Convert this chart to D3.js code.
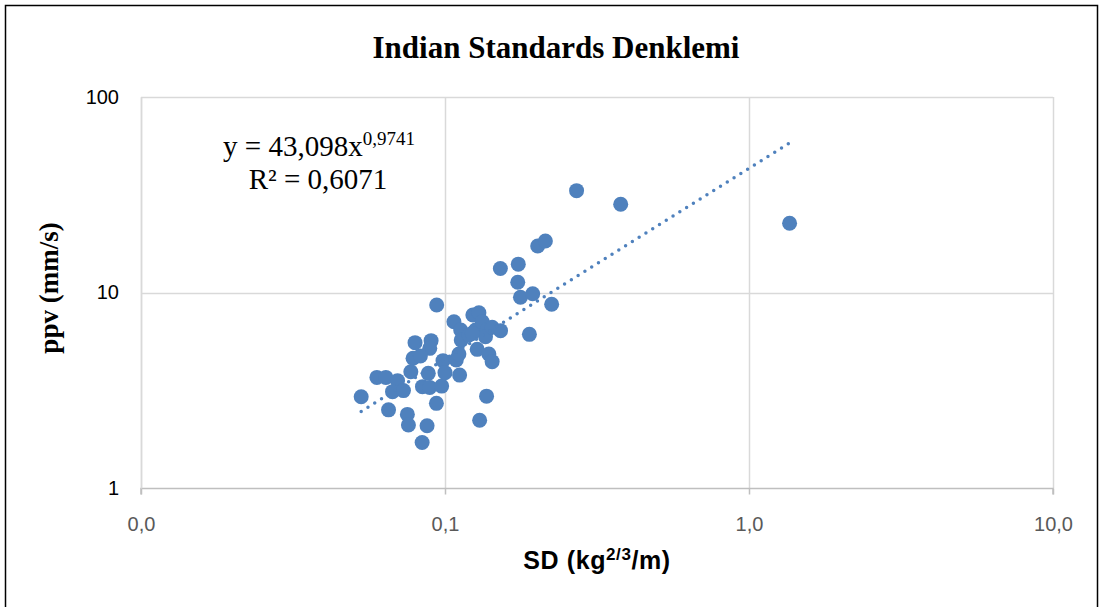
<!DOCTYPE html>
<html>
<head>
<meta charset="utf-8">
<script src="https://cdn.jsdelivr.net/npm/d3@7"></script>
<style>
  html, body { margin: 0; padding: 0; background: #fff; }
</style>
</head>
<body>
<div id="chart"></div>
<script>
// SD (kg^2/3/m) and ppv (mm/s)
const sdValues = [
    0.0530, 0.0597, 0.0639, 0.0698, 0.0672, 0.0730, 0.0652, 0.0752, 0.0758, 0.0873,
    0.0841, 0.0937, 0.0797, 0.0900, 0.0891, 0.0785, 0.0830, 0.0772, 0.0881, 0.0843,
    0.0891, 0.0975, 0.0985, 0.1000, 0.1117, 0.1089, 0.1111, 0.0939, 0.1070, 0.1126,
    0.1131, 0.1199, 0.1235, 0.1293, 0.1261, 0.1326, 0.1376, 0.1359, 0.1429, 0.1523,
    0.1276, 0.1394, 0.1429, 0.1370, 0.1300, 0.1521, 0.1742, 0.1735, 0.1771, 0.1943,
    0.2243, 0.1895, 0.2018, 0.2139, 0.2709, 0.3784, 1.36, 0.1229
];
const ppvValues = [
    2.93, 3.68, 3.68, 3.54, 3.11, 3.15, 2.51, 2.38, 2.10, 2.08,
    1.71, 2.71, 5.54, 5.67, 5.18, 4.61, 4.73, 3.93, 3.86, 3.30,
    3.27, 3.32, 4.48, 3.89, 3.78, 4.52, 4.85, 8.63, 7.09, 6.43,
    5.71, 6.06, 7.67, 7.88, 6.43, 7.09, 6.43, 5.94, 6.64, 6.38,
    5.12, 4.85, 4.43, 2.95, 2.22, 13.27, 13.96, 11.29, 9.45, 9.86,
    8.71, 6.11, 17.29, 18.34, 33.18, 28.26, 22.59, 6.18
];
const xTicks = [0.01, 0.1, 1, 10];
const yTicks = [1, 10, 100];

// power trendline shown on the chart
const fitA = 43.098;
const fitB = 0.9741;
const rSquared = "0,6071";

const width = 1103;
const height = 607;
const blue = "#4f81bd";

const svg = d3.select("#chart").append("svg")
    .attr("width", width)
    .attr("height", height)
    .style("display", "block");

svg.append("rect")
    .attr("width", width)
    .attr("height", height)
    .attr("fill", "#fff");

// outer border (bottom edge runs off the picture)
svg.append("rect")
    .attr("x", 5.5)
    .attr("y", 5.5)
    .attr("width", 1092)
    .attr("height", 640)
    .attr("fill", "none")
    .attr("stroke", "#000")
    .attr("stroke-width", 1.5);

const x = d3.scaleLog().domain([0.01, 10]).range([141, 1053]);
const y = d3.scaleLog().domain([1, 100]).range([488, 97]);

const data = sdValues.map((d, i) => ({ sd: d, ppv: ppvValues[i] }));

// gridlines
svg.append("g")
    .selectAll("line")
    .data(yTicks.filter(d => d > 1))
    .enter()
    .append("line")
    .attr("x1", x.range()[0])
    .attr("x2", x.range()[1])
    .attr("y1", d => Math.round(y(d)) + 0.5)
    .attr("y2", d => Math.round(y(d)) + 0.5)
    .attr("stroke", "#d9d9d9")
    .attr("stroke-width", 1.5);

svg.append("g")
    .selectAll("line")
    .data(xTicks)
    .enter()
    .append("line")
    .attr("x1", d => Math.round(x(d)) + 0.5)
    .attr("x2", d => Math.round(x(d)) + 0.5)
    .attr("y1", y.range()[1])
    .attr("y2", y.range()[0])
    .attr("stroke", "#d9d9d9")
    .attr("stroke-width", 1.5);

// x axis
const xAxis = svg.append("g")
    .attr("transform", `translate(0,${Math.round(y(1)) + 0.5})`)
    .call(d3.axisBottom(x)
        .tickValues(xTicks)
        .tickSize(6)
        .tickPadding(22)
        .tickFormat(d => d3.format(".1f")(d).replace(".", ",")));
xAxis.select(".domain").attr("stroke", "#bfbfbf").attr("stroke-width", 1.5)
    .attr("d", `M${x.range()[0]},6V0H${x.range()[1]}V6`);
xAxis.selectAll(".tick line").attr("stroke", "#bfbfbf").attr("stroke-width", 1.5);
xAxis.selectAll(".tick text")
    .attr("fill", "#595959")
    .style("font-family", "'Liberation Sans Narrow', 'Liberation Sans', Arial, sans-serif")
    .style("font-size", "20px");

// y axis labels only
const yAxis = svg.append("g")
    .attr("transform", `translate(${x.range()[0]},0)`)
    .call(d3.axisLeft(y)
        .tickValues(yTicks)
        .tickSize(0)
        .tickPadding(22)
        .tickFormat(d3.format("d")));
yAxis.select(".domain").attr("stroke", "#d9d9d9").attr("stroke-width", 1.5);
yAxis.selectAll(".tick text")
    .attr("fill", "#000")
    .style("font-family", "'Liberation Sans Narrow', 'Liberation Sans', Arial, sans-serif")
    .style("font-size", "20px");

// trendline (dotted)
const ext = d3.extent(sdValues);
const trend = d3.range(0, 41).map(i => {
    const sd = Math.pow(10, Math.log10(ext[0]) + i / 40 * (Math.log10(ext[1]) - Math.log10(ext[0])));
    return { sd: sd, ppv: fitA * Math.pow(sd, fitB) };
});

// points
svg.append("g")
    .selectAll("circle")
    .data(data)
    .enter()
    .append("circle")
    .attr("cx", d => x(d.sd))
    .attr("cy", d => y(d.ppv))
    .attr("r", 7.5)
    .attr("fill", blue);

svg.append("path")
    .datum(trend)
    .attr("d", d3.line().x(d => x(d.sd)).y(d => y(d.ppv)))
    .attr("fill", "none")
    .attr("stroke", blue)
    .attr("stroke-width", 3.5)
    .attr("stroke-linecap", "round")
    .attr("stroke-dasharray", "0 8");

// title
svg.append("text")
    .attr("x", 556)
    .attr("y", 58)
    .attr("text-anchor", "middle")
    .style("font-family", "'Liberation Serif', 'Times New Roman', serif")
    .style("font-weight", "bold")
    .style("font-size", "31px")
    .text("Indian Standards Denklemi");

// equation label
const eq = svg.append("text")
    .attr("x", 319)
    .attr("y", 156)
    .attr("text-anchor", "middle")
    .style("font-family", "'Liberation Serif', 'Times New Roman', serif")
    .style("font-size", "29px");
eq.append("tspan").text("y = " + String(fitA).replace(".", ",") + "x");
eq.append("tspan")
    .attr("dy", -11)
    .style("font-size", "19px")
    .text(String(fitB).replace(".", ","));

svg.append("text")
    .attr("x", 318)
    .attr("y", 189)
    .attr("text-anchor", "middle")
    .style("font-family", "'Liberation Serif', 'Times New Roman', serif")
    .style("font-size", "29px")
    .text("R² = " + rSquared);

// axis titles
svg.append("text")
    .attr("transform", "translate(58,288) rotate(-90)")
    .attr("text-anchor", "middle")
    .style("font-family", "'Liberation Serif', 'Times New Roman', serif")
    .style("font-weight", "bold")
    .style("font-size", "27px")
    .text("ppv (mm/s)");

const xt = svg.append("text")
    .attr("x", 597)
    .attr("y", 569)
    .attr("text-anchor", "middle")
    .style("font-family", "'Liberation Sans Narrow', 'Liberation Sans', Arial, sans-serif")
    .style("font-weight", "bold")
    .style("font-size", "25px")
    .style("letter-spacing", "0.6px");
xt.append("tspan").text("SD (kg");
xt.append("tspan").attr("dy", -9).style("font-size", "17px").text("2/3");
xt.append("tspan").attr("dy", 9).text("/m)");
</script>
</body>
</html>
